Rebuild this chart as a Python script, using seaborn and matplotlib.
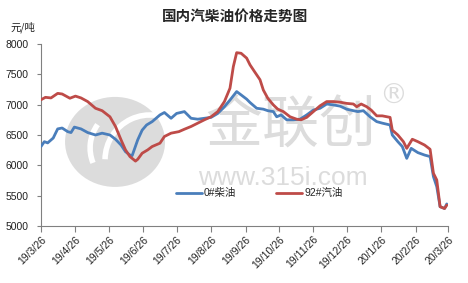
import matplotlib
matplotlib.use("Agg")
import matplotlib.pyplot as plt
from matplotlib.patches import Ellipse, Arc
import seaborn as sns
import pandas as pd

# ---------------- data ----------------
diesel_dates = ["2019-03-26","2019-03-29","2019-04-01","2019-04-06","2019-04-10","2019-04-14","2019-04-19",
                "2019-04-22","2019-04-25","2019-05-01","2019-05-07","2019-05-14","2019-05-20","2019-05-27",
                "2019-06-01","2019-06-06","2019-06-10","2019-06-14","2019-06-16","2019-06-21","2019-06-25",
                "2019-06-29","2019-07-04","2019-07-11","2019-07-15","2019-07-21","2019-07-26","2019-08-02",
                "2019-08-08","2019-08-14","2019-08-20","2019-08-26","2019-09-01","2019-09-07","2019-09-12",
                "2019-09-18","2019-09-22","2019-09-27","2019-09-30","2019-10-06","2019-10-12","2019-10-16",
                "2019-10-21","2019-10-24","2019-10-28","2019-11-02","2019-11-08","2019-11-14","2019-11-20",
                "2019-11-26","2019-12-02","2019-12-08","2019-12-14","2019-12-20","2019-12-26","2020-01-01",
                "2020-01-05","2020-01-10","2020-01-16","2020-01-22","2020-01-27","2020-02-03","2020-02-05",
                "2020-02-10","2020-02-14","2020-02-18","2020-02-22","2020-02-28","2020-03-05","2020-03-10",
                "2020-03-13","2020-03-16","2020-03-19","2020-03-23","2020-03-25"]
diesel_vals = [6310,6390,6370,6450,6600,6615,6555,6540,6630,6600,6540,6500,6530,6500,
               6430,6335,6225,6170,6160,6420,6580,6665,6720,6830,6870,6775,6855,6885,
               6775,6760,6775,6790,6855,6965,7075,7215,7160,7090,7035,6940,6925,6900,
               6885,6800,6830,6750,6750,6760,6830,6910,6940,7010,6995,6975,6925,6900,
               6885,6900,6800,6720,6695,6665,6500,6390,6310,6115,6280,6210,6170,6145,
               5815,5650,5320,5290,5365]

gas_dates = ["2019-03-26","2019-03-30","2019-04-04","2019-04-10","2019-04-14","2019-04-21","2019-04-26",
             "2019-05-01","2019-05-07","2019-05-14","2019-05-20","2019-05-27","2019-06-01","2019-06-06",
             "2019-06-10","2019-06-14","2019-06-19","2019-06-21","2019-06-25","2019-06-30","2019-07-04",
             "2019-07-11","2019-07-15","2019-07-21","2019-07-28","2019-08-02","2019-08-08","2019-08-14",
             "2019-08-20","2019-08-26","2019-09-01","2019-09-07","2019-09-12","2019-09-15","2019-09-18",
             "2019-09-22","2019-09-27","2019-09-30","2019-10-04","2019-10-09","2019-10-12","2019-10-16",
             "2019-10-21","2019-10-25","2019-10-30","2019-11-05","2019-11-11","2019-11-15","2019-11-20",
             "2019-11-26","2019-12-02","2019-12-08","2019-12-14","2019-12-20","2019-12-26","2020-01-01",
             "2020-01-04","2020-01-08","2020-01-13","2020-01-17","2020-01-22","2020-01-27","2020-02-03",
             "2020-02-05","2020-02-10","2020-02-15","2020-02-18","2020-02-23","2020-02-28","2020-03-05",
             "2020-03-10","2020-03-13","2020-03-16","2020-03-19","2020-03-23","2020-03-25"]
gas_vals = [7080,7120,7110,7185,7175,7105,7140,7110,7050,6940,6900,6800,6640,6420,
            6255,6145,6070,6100,6200,6255,6310,6365,6475,6530,6555,6595,6640,6695,
            6750,6800,6885,7050,7270,7625,7855,7845,7765,7655,7545,7410,7240,7105,
            6995,6925,6885,6800,6760,6750,6790,6885,6980,7050,7050,7040,7020,7010,
            6965,7010,6965,6910,6815,6815,6790,6580,6500,6390,6280,6430,6390,6335,
            6265,5870,5760,5320,5290,5345]

series_names = ["0#柴油", "92#汽油"]
tick_dates = ["2019-03-26","2019-04-26","2019-05-26","2019-06-26","2019-07-26","2019-08-26","2019-09-26",
              "2019-10-26","2019-11-26","2019-12-26","2020-01-26","2020-02-26","2020-03-26"]
tick_labels = ["19/3/26","19/4/26","19/5/26","19/6/26","19/7/26","19/8/26","19/9/26",
               "19/10/26","19/11/26","19/12/26","20/1/26","20/2/26","20/3/26"]
y_ticks = [5000, 5500, 6000, 6500, 7000, 7500, 8000]
title = "国内汽柴油价格走势图"
unit = "元/吨"

# ---------------- build ----------------
df = pd.concat([
    pd.DataFrame({"date": pd.to_datetime(diesel_dates), "price": diesel_vals, "series": series_names[0]}),
    pd.DataFrame({"date": pd.to_datetime(gas_dates), "price": gas_vals, "series": series_names[1]}),
])

sns.set_theme(style="white")
plt.rcParams["font.family"] = ["Liberation Sans", "Noto Sans CJK SC", "DejaVu Sans"]

W, H = 468, 283
fig = plt.figure(figsize=(W / 100, H / 100), dpi=100)
ax = fig.add_axes([0.0876, 0.201, 0.8694, 0.644])
AW, AH = 0.8694 * W, 0.644 * H  # axes size in pixels

# watermark logo (decorative)
ax.add_patch(Ellipse((0.182, 0.462), 100 / AW, 90 / AH, transform=ax.transAxes,
                     facecolor="#dcdcdc", edgecolor="none", zorder=0))
ax.add_patch(Arc((0.219, 0.429), 80 / AW, 80 / AH, theta1=122, theta2=222,
                 transform=ax.transAxes, color="white", lw=4, zorder=0.5))
ax.add_patch(Arc((0.268, 0.363), 90 / AW, 90 / AH, theta1=70, theta2=178,
                 transform=ax.transAxes, color="white", lw=4, zorder=0.5))
ax.text(0.615, 0.55, "金联创", transform=ax.transAxes, fontsize=41, color="#dcdcdc",
        family=["Noto Sans CJK SC"], ha="center", va="center", zorder=0)
ax.text(0.595, 0.265, "www.315i.com", transform=ax.transAxes, fontsize=19, color="#dcdcdc",
        family=["Liberation Sans"], ha="center", va="center", zorder=0)
ax.text(0.865, 0.715, "®", transform=ax.transAxes, fontsize=20, color="#dcdcdc",
        family=["DejaVu Sans"], ha="center", va="center", zorder=0)

palette = {series_names[0]: "#4A7EBB", series_names[1]: "#BE4B48"}
sns.lineplot(data=df, x="date", y="price", hue="series", hue_order=series_names,
             palette=palette, linewidth=2.0, ax=ax, zorder=3)

ax.set_xlim(pd.Timestamp(tick_dates[0]), pd.Timestamp(tick_dates[-1]))
ax.set_ylim(5000, 8000)
ax.set_yticks(y_ticks)
ax.set_yticklabels([str(v) for v in y_ticks], fontsize=7.5, color="#222222")
ax.set_xticks(pd.to_datetime(tick_dates))
ax.set_xticklabels(tick_labels, rotation=45, ha="right", rotation_mode="anchor",
                   fontsize=7.5, color="#222222")
ax.set_xlabel("")
ax.set_ylabel("")

for s in ["top", "right"]:
    ax.spines[s].set_visible(False)
for s in ["left", "bottom"]:
    ax.spines[s].set_color("#808080")
    ax.spines[s].set_linewidth(0.8)
ax.tick_params(axis="x", direction="out", length=4, width=0.8, color="#808080", pad=2, bottom=True)
ax.tick_params(axis="y", direction="out", length=3, width=0.8, color="#808080", pad=6, left=True)

leg = ax.legend(loc="center", bbox_to_anchor=(0.536, 0.18), ncol=2, frameon=False,
                fontsize=7.5, handlelength=2.5, handletextpad=0.2, columnspacing=3.8)
for line in leg.get_lines():
    line.set_linewidth(2.0)

fig.text(0.502, 0.945, title, ha="center", va="center", fontsize=10.5, fontweight="bold",
         family=["Noto Sans CJK SC"])
fig.text(0.05, 0.905, unit, ha="center", va="center", fontsize=7.5,
         family=["Noto Sans CJK SC"], color="#222222")

fig.savefig("out.png", dpi=100)
